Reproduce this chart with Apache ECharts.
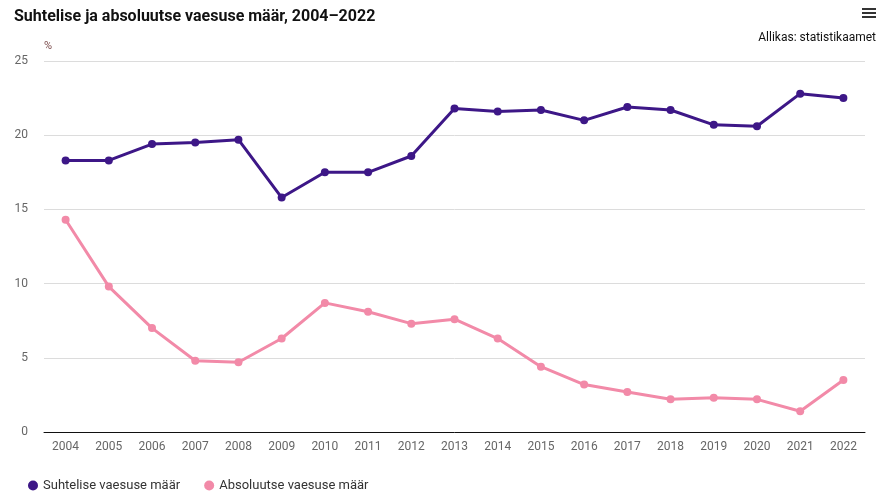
<!DOCTYPE html>
<html><head><meta charset="utf-8">
<script src="https://cdn.jsdelivr.net/npm/echarts@6/dist/echarts.min.js"></script>
<style>html,body{margin:0;padding:0;background:#fff}#c{width:888px;height:498px}</style>
</head><body><div id="c"></div>
<script>
const years = ['2004','2005','2006','2007','2008','2009','2010','2011','2012','2013','2014','2015','2016','2017','2018','2019','2020','2021','2022'];
const relative = [18.3,18.3,19.4,19.5,19.7,15.8,17.5,17.5,18.6,21.8,21.6,21.7,21.0,21.9,21.7,20.7,20.6,22.8,22.5];
const absolute = [14.3,9.8,7.0,4.8,4.7,6.3,8.7,8.1,7.3,7.6,6.3,4.4,3.2,2.7,2.2,2.3,2.2,1.4,3.5];
const seriesNames = ['Suhtelise vaesuse määr','Absoluutse vaesuse määr'];
const chart = echarts.init(document.getElementById('c'));
chart.setOption({
  animation:false,
  textStyle:{fontFamily:'Roboto'},
  title:[{text:'Suhtelise ja absoluutse vaesuse määr, 2004–2022',left:9,top:4,textStyle:{fontSize:16,fontWeight:'bold',color:'#111',fontFamily:'Roboto'}},
         {text:'Allikas: statistikaamet',right:7,top:27,textStyle:{fontSize:12,fontWeight:'normal',color:'#111',fontFamily:'Roboto'}}],
  graphic:[
    {type:'rect',right:12,top:8,shape:{width:14,height:2},style:{fill:'#333'}},
    {type:'rect',right:12,top:12,shape:{width:14,height:2},style:{fill:'#333'}},
    {type:'rect',right:12,top:16,shape:{width:14,height:2},style:{fill:'#333'}}
  ],
  legend:{left:23,top:474,itemWidth:10,itemHeight:10,itemGap:24,icon:'circle',data:seriesNames,textStyle:{fontSize:13,color:'#333',fontFamily:'Roboto'}},
  grid:{left:44,right:23,top:61,bottom:66},
  xAxis:{type:'category',data:years,boundaryGap:true,
    axisLine:{lineStyle:{color:'#111',width:1}},axisTick:{show:false},
    axisLabel:{color:'#666',fontSize:12,margin:9}},
  yAxis:{type:'value',min:0,max:25,interval:5,name:'%',nameLocation:'end',nameGap:9,
    nameTextStyle:{color:'#7a4a4a',fontSize:11,align:'left'},
    axisLine:{show:false},axisTick:{show:false},
    axisLabel:{color:'#666',fontSize:12,margin:16},
    splitLine:{lineStyle:{color:'#dcdcdc'}}},
  series:[
    {name:seriesNames[0],type:'line',data:relative,color:'#3d1787',symbol:'circle',symbolSize:8,lineStyle:{width:3}},
    {name:seriesNames[1],type:'line',data:absolute,color:'#f28aa8',symbol:'circle',symbolSize:8,lineStyle:{width:3}}
  ]
});
</script></body></html>
